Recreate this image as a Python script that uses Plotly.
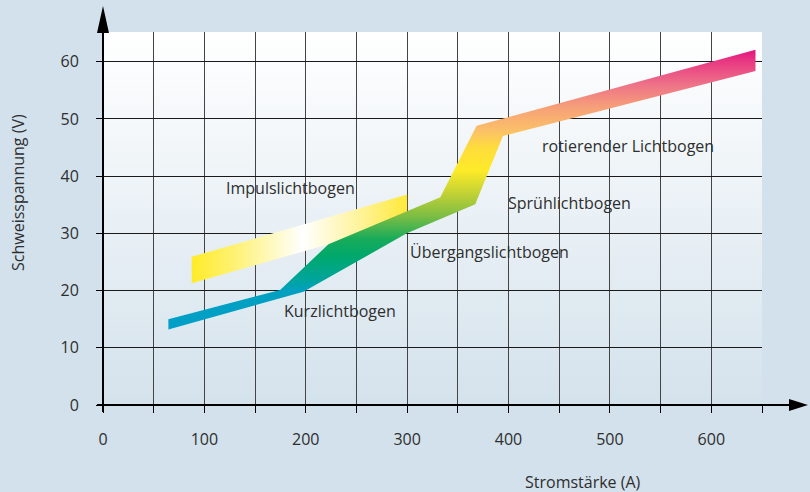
import base64

import plotly.graph_objects as go

# --- data ------------------------------------------------------------------ #

# main band (Kurz -> Übergang -> Sprüh -> rotierender Lichtbogen), outline
# upper edge left->right, then lower edge right->left
MAIN_X = [64.5, 174.7, 222.4, 332.7, 368.5, 643.6,
          643.6, 394.5, 367.2, 299.7, 197.7, 64.5]
MAIN_Y = [15.0, 20.1, 28.1, 36.3, 48.8, 62.1,
          58.4, 47.0, 35.1, 30.0, 19.8, 13.2]

# Impulslichtbogen band
IMPULS_X = [87.5, 300.0, 300.0, 87.5]
IMPULS_Y = [25.9, 36.8, 32.0, 21.3]

LABELS = ["Impulslichtbogen", "Kurzlichtbogen", "Übergangslichtbogen",
          "Sprühlichtbogen", "rotierender Lichtbogen"]
LABEL_X = [184.6, 234.0, 381.0, 460.0, 518.0]
LABEL_Y = [37.9, 16.4, 26.7, 35.3, 45.3]

X_TICKS = list(range(0, 651, 50))
X_TICKTEXT = [str(v) if v % 100 == 0 else "" for v in X_TICKS]
Y_TICKS = [0, 10, 20, 30, 40, 50, 60]

X_RANGE = [0, 650]
Y_RANGE = [0, 65.2]

# --- style ----------------------------------------------------------------- #

PAPER = "#d2e1eb"
INK = "#2e2e2e"
FONT = "Open Sans, Noto Sans, sans-serif"

# colour along the main band, keyed by voltage (vertical gradient)
MAIN_STOPS = [(13.2, "#009fc8"), (20.0, "#00a0c0"), (22.0, "#00a59a"),
              (26.0, "#00a86c"), (29.0, "#18ab5a"), (33.0, "#7cbd44"),
              (36.0, "#b2cc38"), (41.0, "#ffeb28"), (45.0, "#fedc3c"),
              (48.0, "#fbc068"), (52.0, "#f6a078"), (56.0, "#ee7288"),
              (60.0, "#e83a83"), (62.1, "#e4137d")]
IMPULS_SCALE = [[0, "#ffeb28"], [0.22, "#fff27c"], [0.515, "#ffffff"],
                [0.78, "#fff39a"], [1, "#ffe93a"]]

lo, hi = MAIN_STOPS[0][0], MAIN_STOPS[-1][0]
main_scale = [[(v - lo) / (hi - lo), c] for v, c in MAIN_STOPS]

fig = go.Figure()

fig.add_trace(go.Scatter(
    x=IMPULS_X, y=IMPULS_Y, mode="lines", fill="toself",
    line=dict(width=0), hoverinfo="skip", showlegend=False,
    fillgradient=dict(type="horizontal", colorscale=IMPULS_SCALE,
                      start=min(IMPULS_X), stop=max(IMPULS_X)),
))
fig.add_trace(go.Scatter(
    x=MAIN_X, y=MAIN_Y, mode="lines", fill="toself",
    line=dict(width=0), hoverinfo="skip", showlegend=False,
    fillgradient=dict(type="vertical", colorscale=main_scale,
                      start=lo, stop=hi),
))

for txt, x, y in zip(LABELS, LABEL_X, LABEL_Y):
    fig.add_annotation(x=x, y=y, text=txt, showarrow=False,
                       xanchor="center", yanchor="middle",
                       font=dict(size=16, color=INK))

# plot-area background: white at top fading to the page blue
svg = ('<svg xmlns="http://www.w3.org/2000/svg" width="100" height="100" '
       'preserveAspectRatio="none"><defs><linearGradient id="g" x1="0" y1="0" '
       'x2="0" y2="1"><stop offset="0" stop-color="#ffffff"/>'
       '<stop offset="1" stop-color="#d4e2ec"/></linearGradient></defs>'
       '<rect width="100" height="100" fill="url(#g)"/></svg>')
fig.add_layout_image(
    source="data:image/svg+xml;base64," + base64.b64encode(svg.encode()).decode(),
    xref="paper", yref="paper", x=0, y=1, sizex=1, sizey=1,
    xanchor="left", yanchor="top", sizing="stretch", layer="below",
)

# axes with arrow heads (paper coords)
fig.add_shape(type="line", xref="paper", yref="paper", x0=0, x1=0,
              y0=-0.019, y1=1.0, line=dict(color="black", width=2), layer="above")
fig.add_shape(type="line", xref="paper", yref="paper", x0=-0.009, x1=1.042,
              y0=0, y1=0, line=dict(color="black", width=2), layer="above")
fig.add_shape(type="path", xref="paper", yref="paper", layer="above",
              path="M -0.0091 0.997 L 0 1.0697 L 0.0091 0.997 Z",
              fillcolor="black", line=dict(width=0))
fig.add_shape(type="path", xref="paper", yref="paper", layer="above",
              path="M 1.041 -0.0161 L 1.0698 0 L 1.041 0.0161 Z",
              fillcolor="black", line=dict(width=0))

fig.add_annotation(text="Schweisspannung (V)", xref="paper", yref="paper",
                   x=-0.129, y=0.571, textangle=-90, showarrow=False,
                   xanchor="center", yanchor="middle",
                   font=dict(size=16, color=INK))
fig.add_annotation(text="Stromstärke (A)", xref="paper", yref="paper",
                   x=0.728, y=-0.206, showarrow=False,
                   xanchor="center", yanchor="middle",
                   font=dict(size=16, color=INK))

fig.update_layout(
    width=810, height=492,
    margin=dict(l=103, r=48, t=32, b=87),
    paper_bgcolor=PAPER, plot_bgcolor=PAPER,
    font=dict(family=FONT, color=INK, size=16),
    showlegend=False,
)
fig.update_xaxes(range=X_RANGE, tickvals=X_TICKS, ticktext=X_TICKTEXT,
                 showgrid=True, gridcolor="#444444", gridwidth=1,
                 zeroline=False, showline=False,
                 ticks="outside", ticklen=7, tickcolor="black", tickwidth=1,
                 ticklabelstandoff=13, tickfont=dict(size=16, color=INK))
fig.update_yaxes(range=Y_RANGE, tickvals=Y_TICKS,
                 showgrid=True, gridcolor="#1a1a1a", gridwidth=1,
                 zeroline=False, showline=False,
                 ticks="outside", ticklen=6, tickcolor="black", tickwidth=1,
                 ticklabelstandoff=14, tickfont=dict(size=16, color=INK))

# drop the browser's default body margin so the figure fills the window
fig.write_html("out.html", config={"displayModeBar": False}, post_script=(
    "document.body.style.margin='0';"
    "document.body.style.background='" + PAPER + "';"))
